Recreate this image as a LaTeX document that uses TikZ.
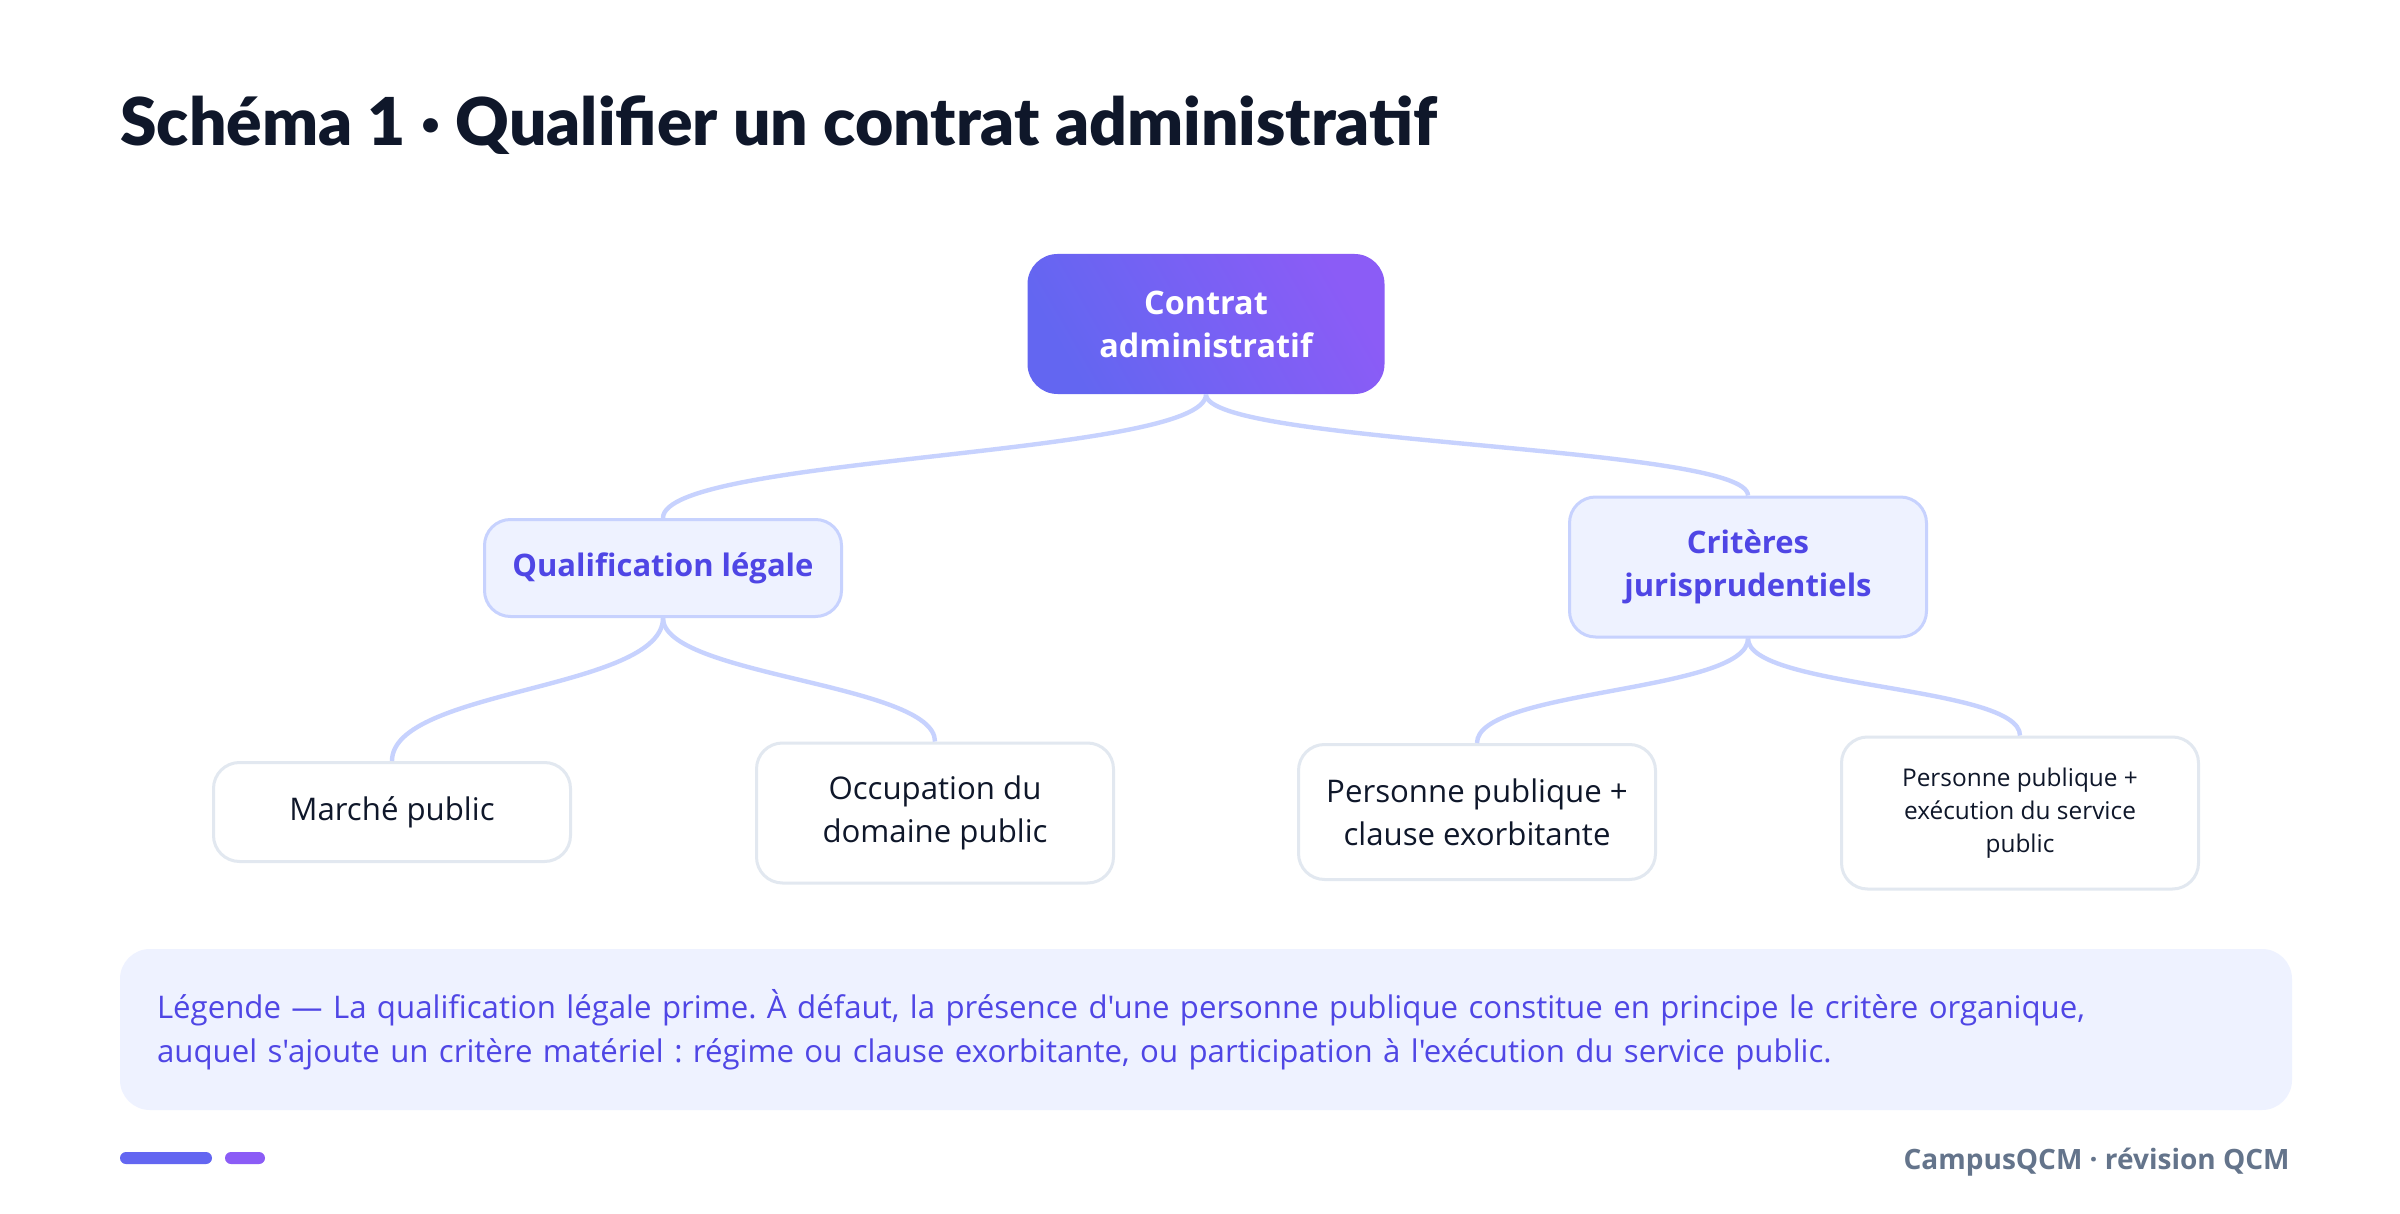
\documentclass[tikz,border=0pt]{standalone}
\usepackage{fontspec}
\setmainfont{Open Sans}
\newfontfamily\titlefont{Lato Black}
\newfontfamily\plainfont{Open Sans}[Ligatures=TeXOff]
\frenchspacing
\definecolor{indigo}{HTML}{6366F1}
\definecolor{violet}{HTML}{8B5CF6}
\definecolor{ink}{HTML}{0F172A}
\definecolor{accent}{HTML}{4F46E5}
\definecolor{pale}{HTML}{EEF2FF}
\definecolor{paleborder}{HTML}{C7D2FE}
\definecolor{leafborder}{HTML}{E2E8F0}
\definecolor{muted}{HTML}{64748B}
\tikzset{
  rootbox/.style={rounded corners=15pt, left color=indigo, right color=violet, shading angle=120,
    minimum width=178.5pt, minimum height=70pt, align=center, text=white,
    font=\fontsize{16.2}{21.5}\selectfont\bfseries},
  midbox/.style={draw=paleborder, line width=1.5pt, fill=pale, rounded corners=13pt,
    minimum width=178.5pt, align=center, text=accent,
    font=\fontsize{15.5}{21.5}\selectfont\bfseries},
  leafbox/.style={draw=leafborder, line width=1.5pt, fill=white, rounded corners=13pt,
    minimum width=178.5pt, align=center, text=ink,
    font=\fontsize{15.6}{21.5}\selectfont},
  link/.style={draw=paleborder, line width=2.2pt}
}
\begin{document}
\begin{tikzpicture}[x=0.5pt, y=-0.5pt]
\useasboundingbox (0,0) rectangle (2400,1214);
\fill[white] (0,0) rectangle (2400,1214);
% title
\node[anchor=base west, inner sep=0pt, text=ink, font=\titlefont\fontsize{33}{38}\selectfont] (title) at (120,146) {Schéma 1 · Qualifier un contrat administratif};
% nodes
\node[rootbox] (root) at (1206,324) {Contrat\\administratif};
\node[midbox, minimum height=48.5pt] (qual) at (663,568) {Qualification légale};
\node[midbox, minimum height=70pt] (crit) at (1748,567) {Critères\\jurisprudentiels};
\node[leafbox, minimum height=49.5pt] (marche) at (392,812) {Marché public};
\node[leafbox, minimum height=70pt] (occup) at (935,813) {Occupation du\\domaine public};
\node[leafbox, minimum height=67.5pt] (pp1) at (1477,812) {Personne publique +\\clause exorbitante};
\node[leafbox, minimum height=76pt, font=\fontsize{12.2}{16.5}\selectfont] (pp2) at (2020,813) {Personne publique +\\exécution du service\\public};
% connectors
\draw[link] (root.south) .. controls ([yshift=-31pt]root.south) and ([yshift=31pt]qual.north) .. (qual.north);
\draw[link] (root.south) .. controls ([yshift=-25pt]root.south) and ([yshift=25pt]crit.north) .. (crit.north);
\draw[link] (qual.south) .. controls ([yshift=-36pt]qual.south) and ([yshift=36pt]marche.north) .. (marche.north);
\draw[link] (qual.south) .. controls ([yshift=-29pt]qual.south) and ([yshift=29pt]occup.north) .. (occup.north);
\draw[link] (crit.south) .. controls ([yshift=-27pt]crit.south) and ([yshift=27pt]pp1.north) .. (pp1.north);
\draw[link] (crit.south) .. controls ([yshift=-25pt]crit.south) and ([yshift=25pt]pp2.north) .. (pp2.north);
% legend
\node[fill=pale, rounded corners=15pt, minimum width=1086pt, minimum height=80.5pt,
  text width=1049pt, inner xsep=18.5pt, align=left, text=accent,
  font=\plainfont\fontsize{15.6}{22}\selectfont] (legend) at (1206,1029.5)
  {Légende — La qualification légale prime. À défaut, la présence d'une personne publique constitue en principe le critère organique,\\auquel s'ajoute un critère matériel : régime ou clause exorbitante, ou participation à l'exécution du service public.};
% footer
\fill[indigo, rounded corners=3pt] (120,1152) rectangle (212,1164);
\fill[violet, rounded corners=3pt] (225,1152) rectangle (265,1164);
\node[anchor=base east, inner sep=0pt, text=muted, font=\bfseries\fontsize{14}{17}\selectfont] (footer) at (2290,1169) {CampusQCM · révision QCM};
\end{tikzpicture}
\end{document}
